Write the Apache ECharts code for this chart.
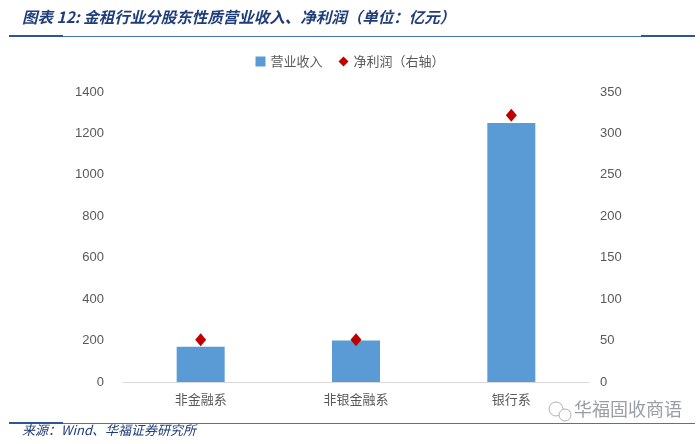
<!DOCTYPE html>
<html>
<head>
<meta charset="utf-8">
<script src="https://cdn.jsdelivr.net/npm/echarts@6/dist/echarts.min.js"></script>
<style>
  html, body { margin: 0; padding: 0; background: #fff; }
  #chart { width: 700px; height: 444px; }
</style>
</head>
<body>
<div id="chart"></div>
<script>
// 数据
const categories = ["非金融系", "非银金融系", "银行系"];
const revenue = [170, 200, 1250]; // 营业收入（左轴）
const netProfit = [51, 51, 322]; // 净利润（右轴）
const leftTicks = [0, 1400, 200];
const rightTicks = [0, 350, 50];

const chart = echarts.init(document.getElementById("chart"));
const cjk = '"Noto Sans CJK SC", sans-serif';
const titleBlue = "#1F3D7A";
const lineBlue = "#4472C4";
const darkBlue = "#2F5597";

const option = {
  animation: false,
  textStyle: { fontFamily: cjk },
  graphic: [
    {
      type: "text", left: 22, top: 9,
      style: { text: "图表 12: 金租行业分股东性质营业收入、净利润（单位：亿元）", fill: titleBlue, font: "italic bold 15.5px " + cjk }
    },
    { type: "rect", shape: { x: 9, y: 36, width: 686, height: 1 }, style: { fill: lineBlue } },
    { type: "rect", shape: { x: 9, y: 35, width: 54, height: 2 }, style: { fill: darkBlue } },
    { type: "rect", shape: { x: 641, y: 35, width: 54, height: 2 }, style: { fill: darkBlue } },
    { type: "rect", shape: { x: 9, y: 423, width: 686, height: 1 }, style: { fill: lineBlue } },
    { type: "rect", shape: { x: 9, y: 422, width: 54, height: 2 }, style: { fill: darkBlue } },
    {
      type: "text", left: 22, top: 424,
      style: { text: "来源：Wind、华福证券研究所", fill: titleBlue, font: "italic 13px " + cjk }
    },
    {
      type: "text", left: 574, top: 400,
      style: { text: "华福固收商语", fill: "#9a9ea6", font: "18px " + cjk }
    },
    { type: "circle", shape: { cx: 556, cy: 409, r: 7 }, style: { fill: "none", stroke: "#b0b0b0", lineWidth: 1 } },
    { type: "circle", shape: { cx: 565, cy: 415, r: 6 }, style: { fill: "#fff", stroke: "#b0b0b0", lineWidth: 1 } }
  ],
  legend: {
    top: 50,
    left: "center",
    itemWidth: 10,
    itemHeight: 10,
    itemGap: 16,
    textStyle: { color: "#595959", fontSize: 13, fontFamily: cjk },
    data: [
      { name: "营业收入", icon: "rect", itemStyle: { color: "#5B9BD5" } },
      { name: "净利润（右轴）", icon: "diamond", itemStyle: { color: "#C00000", opacity: 1 } }
    ]
  },
  grid: { left: 123, right: 111, top: 92, bottom: 62 },
  xAxis: {
    type: "category",
    data: categories,
    axisTick: { show: false },
    axisLine: { lineStyle: { color: "#D9D9D9", width: 1 } },
    axisLabel: { color: "#595959", fontSize: 13, margin: 11, fontFamily: cjk }
  },
  yAxis: [
    {
      type: "value",
      min: leftTicks[0], max: leftTicks[1], interval: leftTicks[2],
      splitLine: { show: false },
      axisLine: { show: false },
      axisTick: { show: false },
      axisLabel: { color: "#595959", fontSize: 13, margin: 19, formatter: (v) => String(v), fontFamily: "Liberation Sans, Arial, sans-serif" }
    },
    {
      type: "value",
      min: rightTicks[0], max: rightTicks[1], interval: rightTicks[2],
      splitLine: { show: false },
      axisLine: { show: false },
      axisTick: { show: false },
      axisLabel: { color: "#595959", fontSize: 13, margin: 11, formatter: (v) => String(v), fontFamily: "Liberation Sans, Arial, sans-serif" }
    }
  ],
  series: [
    {
      name: "营业收入",
      type: "bar",
      data: revenue,
      barWidth: 48,
      itemStyle: { color: "#5B9BD5" }
    },
    {
      name: "净利润（右轴）",
      type: "scatter",
      yAxisIndex: 1,
      data: netProfit,
      symbol: "diamond",
      symbolSize: [11, 13],
      itemStyle: { color: "#C00000", opacity: 1 }
    }
  ]
};
chart.setOption(option);
</script>
</body>
</html>
